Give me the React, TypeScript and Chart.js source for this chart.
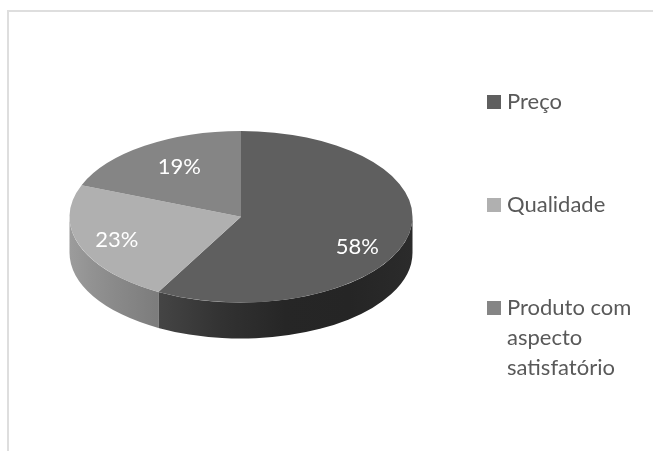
import { useEffect, useRef } from "react";
import { Chart, registerables } from "chart.js";

Chart.register(...registerables);

// Survey shares
const categories = ["Preço", "Qualidade", "Produto com aspecto satisfatório"];
const shares = [58, 23, 19];

// Legend text broken the way it is displayed
const legendLines = [["Preço"], ["Qualidade"], ["Produto com", "aspecto", "satisfatório"]];

// Slice colours and the shaded stops of each slice's outer wall
const sliceColors = ["#5f5f5f", "#b0b0b0", "#858585"];
const wallStops = [
  ["#454545", "#323232", "#262626", "#252525", "#2b2b2b"],
  ["#9c9c9c", "#929292", "#8a8a8a", "#838383", "#7c7c7c"],
  ["#6a6a6a", "#6a6a6a"],
];

// Tilt of the disc and thickness of its edge
const TILT = 0.5;
const DEPTH = 36;

const FONT = "Lato";
const TEXT_SIZE = 22;

// Radial placement of the percentage labels, with a vertical nudge
const labelRadial = [0.7, 0.77, 0.64];
const labelNudge = [15, 1, -4];

const frame = {
  id: "frame",
  beforeDraw(chart: any) {
    const { ctx, width, height } = chart;
    ctx.save();
    ctx.fillStyle = "#dedede";
    ctx.fillRect(7, 10, 2, height - 10);
    ctx.fillRect(7, 10, width - 7, 2);
    ctx.restore();
  },
};

const disc = {
  id: "disc",
  beforeDatasetsDraw(chart: any) {
    const { ctx } = chart;
    const arcs = chart.getDatasetMeta(0).data;
    const { x: cx, y: cy, outerRadius: r } = arcs[0];
    const ry = r * TILT;

    // Outer wall: only the part of each slice facing the viewer
    arcs.forEach((arc: any, i: number) => {
      const from = Math.max(arc.startAngle, 0);
      const to = Math.min(arc.endAngle, Math.PI);
      if (to <= from) return;
      const x0 = cx + r * Math.cos(to);
      const x1 = cx + r * Math.cos(from);
      const grad = ctx.createLinearGradient(Math.min(x0, x1), 0, Math.max(x0, x1), 0);
      const stops = wallStops[i];
      stops.forEach((c: string, k: number) => grad.addColorStop(k / (stops.length - 1), c));
      ctx.save();
      ctx.beginPath();
      ctx.ellipse(cx, cy, r, ry, 0, from, to);
      ctx.ellipse(cx, cy + DEPTH, r, ry, 0, to, from, true);
      ctx.closePath();
      ctx.fillStyle = grad;
      ctx.fill();
      ctx.restore();
    });

    // The slices themselves are flattened into the tilted plane
    ctx.save();
    ctx.translate(cx, cy);
    ctx.scale(1, TILT);
    ctx.translate(-cx, -cy);
  },
  afterDatasetsDraw(chart: any) {
    const { ctx } = chart;
    ctx.restore();

    const arcs = chart.getDatasetMeta(0).data;
    ctx.save();
    ctx.font = `${TEXT_SIZE}px ${FONT}`;
    ctx.fillStyle = "#ffffff";
    ctx.textAlign = "center";
    ctx.textBaseline = "middle";
    arcs.forEach((arc: any, i: number) => {
      const mid = (arc.startAngle + arc.endAngle) / 2;
      const dist = arc.outerRadius * labelRadial[i];
      const x = arc.x + dist * Math.cos(mid);
      const y = arc.y + dist * TILT * Math.sin(mid) + labelNudge[i];
      ctx.fillText(`${chart.data.datasets[0].data[i]}%`, x, y);
    });
    ctx.restore();
  },
};

const sideLegend = {
  id: "sideLegend",
  afterDraw(chart: any) {
    const { ctx } = chart;
    const swatchX = 487;
    const textX = 507;
    const rowBaselines = [109, 212, 315];
    const lineGap = 30;
    ctx.save();
    ctx.font = `${TEXT_SIZE}px ${FONT}`;
    ctx.textAlign = "left";
    ctx.textBaseline = "alphabetic";
    chart.data.labels.forEach((_: string, i: number) => {
      ctx.fillStyle = sliceColors[i];
      ctx.fillRect(swatchX, rowBaselines[i] - 14, 14, 14);
      ctx.fillStyle = "#595959";
      legendLines[i].forEach((line, k) => {
        ctx.fillText(line, textX, rowBaselines[i] + k * lineGap);
      });
    });
    ctx.restore();
  },
};

export default function App() {
  const ref = useRef<HTMLCanvasElement>(null);

  useEffect(() => {
    document.body.style.margin = "0";
    const chart = new Chart(ref.current!, {
      type: "pie",
      data: {
        labels: categories,
        datasets: [{ data: shares, backgroundColor: sliceColors, borderWidth: 0 }],
      },
      options: {
        responsive: false,
        animation: false,
        layout: { padding: { left: 69.5, right: 240.5, top: 45, bottom: 62.5 } },
        plugins: { legend: { display: false }, tooltip: { enabled: false } },
      },
      plugins: [frame, disc, sideLegend],
    });
    return () => chart.destroy();
  }, []);

  return <canvas ref={ref} width={653} height={451} style={{ display: "block" }} />;
}
